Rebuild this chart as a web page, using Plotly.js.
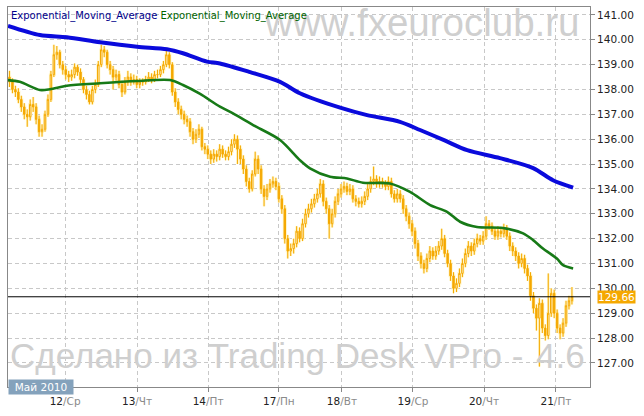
<!DOCTYPE html>
<html>
<head>
<meta charset="utf-8">
<script src="https://cdn.plot.ly/plotly-3.0.1.min.js"></script>
<style>
html,body{margin:0;padding:0;background:#fff;}
#chart{width:644px;height:416px;}
</style>
</head>
<body>
<div id="chart"></div>
<script>
// ---- Data (hourly candles, bar index 0..190) ----
const openP = [138.5,138.3,138.0,137.9,137.6,137.3,137.0,136.9,137.4,137.3,
136.8,136.3,136.4,137.0,137.6,138.6,139.4,139.5,139.0,138.8,
138.6,138.5,138.6,138.9,138.7,138.4,138.0,137.8,137.5,138.0,
138.2,139.0,139.6,139.5,139.0,138.8,138.5,138.6,138.2,137.9,
138.3,138.5,138.3,138.4,138.2,138.3,138.3,138.4,138.5,138.4,
138.6,138.6,138.8,139.0,139.4,139.0,137.9,137.5,137.2,137.0,
136.8,136.7,136.3,136.0,136.2,136.4,135.7,135.6,135.4,135.2,
135.4,135.3,135.6,135.4,135.3,135.5,135.8,136.0,135.6,135.2,
134.8,134.3,134.0,134.6,135.2,134.8,134.0,133.7,134.0,134.2,
134.3,134.1,133.6,133.2,132.0,131.5,131.6,131.8,132.3,132.0,
132.6,133.0,133.2,133.4,133.6,133.8,134.2,133.5,133.2,132.6,
133.0,133.5,133.8,134.0,134.1,133.9,134.0,133.6,133.5,133.4,
133.5,133.7,134.0,134.3,134.4,134.2,134.3,134.2,134.1,134.3,
133.8,133.6,133.8,133.6,133.2,132.9,132.6,132.3,131.8,131.3,
131.0,130.8,131.2,131.5,131.3,131.5,131.7,132.0,131.4,131.0,
130.5,130.0,130.2,130.6,131.0,131.4,131.7,131.5,131.8,132.0,
131.9,132.1,132.6,132.5,132.3,132.1,132.3,132.2,132.4,132.1,
131.7,131.5,131.3,131.0,131.2,130.8,130.5,129.7,129.2,128.8,
129.4,128.4,128.1,129.0,129.8,129.0,128.4,128.2,128.6,129.3,
129.5];
const highP = [138.75,138.45,138.15,138.05,137.75,137.45,137.2,137.6,137.7,137.45,
136.95,136.6,137.15,137.8,138.75,139.8,139.75,139.6,139.15,138.95,
138.75,138.8,139.05,139.0,138.85,138.5,138.15,137.95,138.15,138.4,
139.15,139.8,139.75,139.6,139.15,138.95,138.8,138.75,138.35,138.5,
138.75,138.65,138.6,138.55,138.45,138.45,138.55,138.7,138.65,138.75,
138.8,138.95,139.15,139.55,139.5,139.1,138.05,137.65,137.35,137.15,
136.95,136.85,136.45,136.4,136.6,136.5,135.85,135.75,135.55,135.6,
135.55,135.8,135.75,135.55,135.7,136.0,136.2,136.15,135.75,135.35,
134.95,134.45,134.75,135.5,135.35,134.95,134.15,134.2,134.4,134.5,
134.45,134.25,133.75,133.35,132.15,131.8,132.0,132.5,132.45,132.8,
133.2,133.4,133.6,133.8,134.0,134.4,134.35,133.65,133.35,133.2,
133.7,134.0,134.2,134.3,134.25,134.2,134.15,133.75,133.65,133.7,
133.9,134.2,134.5,134.9,134.55,134.5,134.45,134.35,134.5,134.45,
133.95,134.0,133.95,133.75,133.35,133.05,132.75,132.45,131.95,131.45,
131.15,131.4,131.7,131.65,131.7,131.9,132.4,132.15,131.55,131.15,
130.65,130.4,130.8,131.2,131.6,131.9,131.85,132.0,132.2,132.15,
132.3,132.9,132.75,132.65,132.45,132.5,132.45,132.6,132.55,132.25,
131.85,131.65,131.45,131.4,131.35,130.95,130.65,129.85,129.35,129.6,
129.55,128.55,130.6,130.0,129.95,129.15,128.55,128.8,129.5,129.7,
130.05];
const lowP = [138.1,137.85,137.7,137.45,137.1,136.8,136.5,136.75,137.1,136.6,
136.1,136.1,136.3,136.9,137.5,138.5,139.2,138.85,138.6,138.4,
138.3,138.35,138.45,138.55,138.25,137.85,137.6,137.4,137.4,137.85,
138.1,138.9,139.3,138.85,138.6,138.0,138.35,138.05,137.7,137.8,
138.15,138.15,138.2,138.05,138.05,138.15,138.2,138.3,138.25,138.3,
138.45,138.5,138.65,138.9,138.85,137.75,137.3,137.0,136.8,136.6,
136.5,136.1,135.8,135.85,136.05,135.55,135.4,135.2,135.0,135.05,
135.1,135.15,135.25,135.15,135.15,135.35,135.65,135.0,135.0,134.6,
134.1,133.85,133.9,134.5,134.6,133.8,133.3,133.55,133.85,134.05,
133.95,133.45,133.0,131.8,131.2,131.3,131.4,131.65,131.85,131.9,
132.45,132.85,133.05,133.25,133.45,133.65,133.3,133.0,132.0,132.45,
132.85,133.35,133.65,133.85,133.75,133.75,133.45,133.3,133.25,133.25,
133.35,133.55,133.85,134.15,134.05,134.05,134.05,133.95,133.95,133.65,
133.45,133.45,133.45,133.0,132.7,132.4,132.1,131.6,131.1,130.8,
130.6,130.65,131.05,131.15,131.15,131.35,131.55,131.25,130.85,130.3,
129.8,129.85,130.05,130.45,130.85,131.25,131.3,131.35,131.65,131.75,
131.75,131.95,132.35,132.15,131.95,131.95,132.05,132.05,131.95,131.5,
131.3,131.1,130.8,130.85,130.6,130.3,129.5,129.0,128.3,126.85,
128.2,127.9,127.95,128.85,128.8,128.2,127.95,128.05,128.45,129.15,
129.35];
const closeP = [138.3,138.0,137.9,137.6,137.3,137.0,136.9,137.4,137.3,136.8,
136.3,136.4,137.0,137.6,138.6,139.4,139.5,139.0,138.8,138.6,
138.5,138.6,138.9,138.7,138.4,138.0,137.8,137.5,138.0,138.2,
139.0,139.6,139.5,139.0,138.8,138.5,138.6,138.2,137.9,138.3,
138.5,138.3,138.4,138.2,138.3,138.3,138.4,138.5,138.4,138.6,
138.6,138.8,139.0,139.4,139.0,137.9,137.5,137.2,137.0,136.8,
136.7,136.3,136.0,136.2,136.4,135.7,135.6,135.4,135.2,135.4,
135.3,135.6,135.4,135.3,135.5,135.8,136.0,135.6,135.2,134.8,
134.3,134.0,134.6,135.2,134.8,134.0,133.7,134.0,134.2,134.3,
134.1,133.6,133.2,132.0,131.5,131.6,131.8,132.3,132.0,132.6,
133.0,133.2,133.4,133.6,133.8,134.2,133.5,133.2,132.6,133.0,
133.5,133.8,134.0,134.1,133.9,134.0,133.6,133.5,133.4,133.5,
133.7,134.0,134.3,134.4,134.2,134.3,134.2,134.1,134.3,133.8,
133.6,133.8,133.6,133.2,132.9,132.6,132.3,131.8,131.3,131.0,
130.8,131.2,131.5,131.3,131.5,131.7,132.0,131.4,131.0,130.5,
130.0,130.2,130.6,131.0,131.4,131.7,131.5,131.8,132.0,131.9,
132.1,132.6,132.5,132.3,132.1,132.3,132.2,132.4,132.1,131.7,
131.5,131.3,131.0,131.2,130.8,130.5,129.7,129.2,128.8,129.4,
128.4,128.1,129.0,129.8,129.0,128.4,128.2,128.6,129.3,129.5,
129.66];

// Long EMA (blue) sampled points: bar index / value
const blueX = [-0.5,10.3,19.4,30.6,43.1,53.2,58.6,66.7,71.1,81.3,91.4,98.1,111.7,120.8,131.9,138.7,147,154.6,165.7,176.9,183.6,190.4];
const blueY = [140.56,140.19,140.10,139.90,139.72,139.62,139.46,139.12,139.05,138.70,138.31,137.85,137.27,136.97,136.70,136.37,135.95,135.56,135.24,134.84,134.35,134.05];
// Shorter EMA (green)
const greenX = [-0.5,3.5,10.3,13.7,19.4,30.6,43.1,54.2,58.6,64.4,71.1,75.5,82.3,91.4,98.1,101.5,108.3,114.0,119.4,128.5,135.3,142.1,147.8,152.2,157.9,166.7,173.5,176.9,180.2,184.9,187.0,190.4];
const greenY = [138.38,138.31,137.98,138.01,138.15,138.25,138.34,138.38,138.18,137.82,137.31,137.04,136.57,135.97,135.16,134.83,134.49,134.42,134.25,134.22,133.88,133.35,133.08,132.68,132.47,132.43,132.21,131.94,131.60,131.20,130.93,130.80];

// X axis day ticks (bar index where each day starts)
const dayTickPos = [18.8,43.1,67.1,91.0,112.3,136.3,160.3,184.6];
const dayNums = ["12","13","14","17","18","19","20","21"];
const dayNames = ["Ср","Чт","Пт","Пн","Вт","Ср","Чт","Пт"];
const monthLabel = "Май 2010";
const legendNames = ["Exponential_Moving_Average","Exponential_Moving_Average"];

// ---- Build ----
const N = closeP.length;
const xs = closeP.map((_, i) => i);
const last = closeP[N - 1];
const orange = '#F5A800';

const traces = [
  { type:'scatter', mode:'text', x:[86.3], y:[140.55], text:['www.fxeuroclub.ru'],
    textposition:'middle right', cliponaxis:false, hoverinfo:'skip', showlegend:false,
    textfont:{family:'Liberation Sans, Arial, sans-serif', size:38.5, color:'#CFCFCF'} },
  { type:'scatter', mode:'text', x:[0.17], y:[127.13], text:['Сделано из Trading Desk VPro -\u200A 4.6'],
    textposition:'middle right', cliponaxis:false, hoverinfo:'skip', showlegend:false,
    textfont:{family:'Liberation Sans, Arial, sans-serif', size:35, color:'#CFCFCF'} },
  { type:'candlestick', x:xs, open:openP, high:highP, low:lowP, close:closeP,
    showlegend:false, hoverinfo:'skip', whiskerwidth:0,
    increasing:{line:{color:'#FFF5C4', width:2.6}, fillcolor:'#FFF5C4'},
    decreasing:{line:{color:'#FFF5C4', width:2.6}, fillcolor:'#FFF5C4'} },
  { type:'candlestick', x:xs, open:openP, high:highP, low:lowP, close:closeP,
    showlegend:false, hoverinfo:'skip', whiskerwidth:0,
    increasing:{line:{color:orange, width:1}, fillcolor:'#FFFBE8'},
    decreasing:{line:{color:orange, width:1}, fillcolor:orange} },
  { type:'scatter', mode:'lines', x:greenX, y:greenY, name:legendNames[1],
    line:{color:'#177A17', width:2.6, shape:'spline', smoothing:0.8}, showlegend:false, hoverinfo:'skip' },
  { type:'scatter', mode:'lines', x:blueX, y:blueY, name:legendNames[0],
    line:{color:'#0A0ADC', width:4, shape:'spline', smoothing:0.8}, showlegend:false, hoverinfo:'skip' }
];

const layout = {
  width:644, height:416,
  margin:{l:8, r:54, t:7, b:29, pad:0},
  paper_bgcolor:'#fff', plot_bgcolor:'#fff',
  font:{family:'DejaVu Sans, Verdana, sans-serif', size:10.5, color:'#222'},
  showlegend:false,
  xaxis:{
    type:'linear', range:[-0.5, 196.1], fixedrange:true,
    rangeslider:{visible:false},
    tickmode:'array', tickvals:dayTickPos,
    ticktext:dayNums.map((d,i)=> d + '<span style="color:#8a8a8a">/' + dayNames[i] + '</span>'),
    ticks:'outside', ticklen:4, tickcolor:'#888',
    showgrid:true, gridcolor:'#C8C8C8', griddash:'4px,3px', gridwidth:1,
    showline:true, linecolor:'#888', linewidth:1, mirror:true, zeroline:false,
    tickfont:{size:10.5, color:'#222'}
  },
  yaxis:{
    side:'right', range:[126.03, 141.32], fixedrange:true,
    tickmode:'linear', tick0:127, dtick:1, tickformat:'.2f',
    ticks:'outside', ticklen:4, tickcolor:'#888',
    showgrid:true, gridcolor:'#C8C8C8', griddash:'4px,3px', gridwidth:1,
    showline:true, linecolor:'#888', linewidth:1, mirror:true, zeroline:false,
    tickfont:{size:10.5, color:'#222'}
  },
  shapes:[
    {type:'line', xref:'paper', x0:0, x1:1, yref:'y', y0:last, y1:last,
     line:{color:'#000', width:1}}
  ],
  annotations:[
    {xref:'paper', yref:'paper', x:0, y:1, xanchor:'left', yanchor:'top', xshift:1, yshift:-1,
     showarrow:false, align:'left',
     text:'<span style="color:#00008B">' + legendNames[0] + '</span> <span style="color:#006400">' + legendNames[1] + '</span>',
     font:{size:10, family:'DejaVu Sans, Verdana, sans-serif'}},
    {xref:'paper', yref:'y', x:1, y:last, xanchor:'left', yanchor:'middle', xshift:7,
     showarrow:false, text:last.toFixed(2), bgcolor:orange, borderpad:0,
     font:{size:10.5, color:'#fff'}},
    {xref:'paper', yref:'paper', x:0, y:0, xanchor:'left', yanchor:'middle', xshift:0, yshift:0,
     showarrow:false, text:monthLabel, bgcolor:'#84A2BC', width:64, height:14, borderpad:0,
     font:{size:10.5, color:'#fff'}}
  ]
};

Plotly.newPlot('chart', traces, layout, {staticPlot:true, displayModeBar:false});
</script>
</body>
</html>
